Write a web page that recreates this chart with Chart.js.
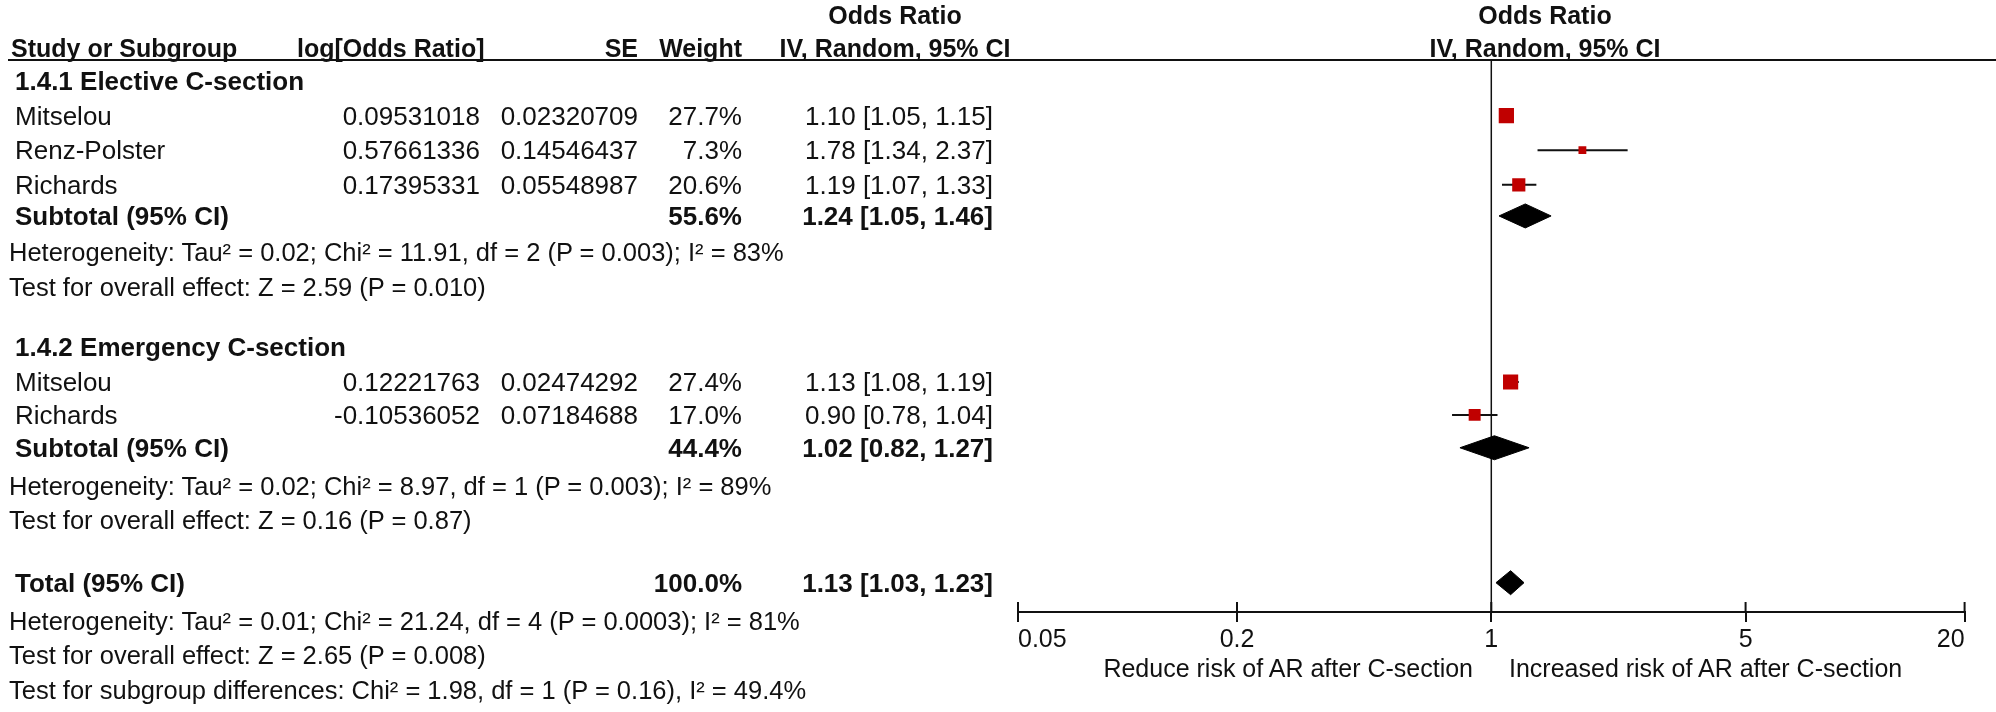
<!DOCTYPE html>
<html>
<head>
<meta charset="utf-8">
<script src="https://cdn.jsdelivr.net/npm/chart.js@4.4.1/dist/chart.umd.min.js"></script>
<style>
html,body{margin:0;padding:0;background:#fff;}
#wrap{position:relative;width:1996px;height:712px;overflow:hidden;font-family:"Liberation Sans",Arial,sans-serif;font-size:26px;color:#111;}
#plot{position:absolute;left:0;top:0;}
.t{position:absolute;white-space:nowrap;line-height:30px;height:30px;}
.b{font-weight:bold;}
.h{font-size:25px;}
.s{font-size:25.5px;}
#rule{position:absolute;left:8px;right:0;top:59px;border-top:2.5px solid #111;}
</style>
</head>
<body>
<div id="wrap"><canvas id="plot" width="1996" height="712"></canvas><div id="rule"></div></div>
<script>
// table data
const groupTitles = ['1.4.1 Elective C-section', '1.4.2 Emergency C-section'];
const studyNames = ['Mitselou', 'Renz-Polster', 'Richards', 'Mitselou', 'Richards'];
const logOddsText = ['0.09531018', '0.57661336', '0.17395331', '0.12221763', '-0.10536052'];
const seText = ['0.02320709', '0.14546437', '0.05548987', '0.02474292', '0.07184688'];
const weights = [27.7, 7.3, 20.6, 27.4, 17.0];
const oddsRatio = [1.10, 1.78, 1.19, 1.13, 0.90];
const ciLow = [1.05, 1.34, 1.07, 1.08, 0.78];
const ciHigh = [1.15, 2.37, 1.33, 1.19, 1.04];

const pooledNames = ['Subtotal (95% CI)', 'Subtotal (95% CI)', 'Total (95% CI)'];
const pooledWeight = [55.6, 44.4, 100.0];
const pooledOR = [1.24, 1.02, 1.13];
const pooledLow = [1.05, 0.82, 1.03];
const pooledHigh = [1.46, 1.27, 1.23];

const statsLines = [
  ['Heterogeneity: Tau² = 0.02; Chi² = 11.91, df = 2 (P = 0.003); I² = 83%', 'Test for overall effect: Z = 2.59 (P = 0.010)'],
  ['Heterogeneity: Tau² = 0.02; Chi² = 8.97, df = 1 (P = 0.003); I² = 89%', 'Test for overall effect: Z = 0.16 (P = 0.87)'],
  ['Heterogeneity: Tau² = 0.01; Chi² = 21.24, df = 4 (P = 0.0003); I² = 81%', 'Test for overall effect: Z = 2.65 (P = 0.008)', 'Test for subgroup differences: Chi² = 1.98, df = 1 (P = 0.16), I² = 49.4%']
];
const axisTicks = [0.05, 0.2, 1, 5, 20];
const favoursLeft = 'Reduce risk of AR after C-section';
const favoursRight = 'Increased risk of AR after C-section';

// row layout (in text lines)
const groupRow = [0, 7.7];
const studyRow = [1, 2, 3, 8.7, 9.65];
const pooledRow = [3.9, 10.6, 14.5];
const statsRow = [4.95, 11.7, 15.6];

const ROW0 = 81, ROWH = 34.6;
const lineY = L => ROW0 + ROWH * L;
const wrap = document.getElementById('wrap');

function addText(str, x, yc, align, cls) {
  const d = document.createElement('div');
  d.className = 't' + (cls ? ' ' + cls : '');
  d.textContent = str;
  d.style.top = (yc - 15) + 'px';
  if (align === 'right') d.style.right = (1996 - x) + 'px';
  else if (align === 'center') { d.style.left = x + 'px'; d.style.transform = 'translateX(-50%)'; }
  else d.style.left = x + 'px';
  wrap.appendChild(d);
}

const NAME_X = 15, STAT_X = 9, LOG_R = 480, SE_R = 638, W_R = 742, CI_R = 993;
const fmt = (o, l, h) => `${o.toFixed(2)} [${l.toFixed(2)}, ${h.toFixed(2)}]`;

// headers
addText('Odds Ratio', 895, 15, 'center', 'b h');
addText('Odds Ratio', 1545, 15, 'center', 'b h');
addText('Study or Subgroup', 11, 48, 'left', 'b h');
addText('log[Odds Ratio]', 297, 48, 'left', 'b h');
addText('SE', SE_R, 48, 'right', 'b h');
addText('Weight', W_R, 48, 'right', 'b h');
addText('IV, Random, 95% CI', 895, 48, 'center', 'b h');
addText('IV, Random, 95% CI', 1545, 48, 'center', 'b h');

groupTitles.forEach((g, i) => addText(g, NAME_X, lineY(groupRow[i]), 'left', 'b'));
studyNames.forEach((n, i) => {
  const y = lineY(studyRow[i]);
  addText(n, NAME_X, y, 'left');
  addText(logOddsText[i], LOG_R, y, 'right');
  addText(seText[i], SE_R, y, 'right');
  addText(weights[i].toFixed(1) + '%', W_R, y, 'right');
  addText(fmt(oddsRatio[i], ciLow[i], ciHigh[i]), CI_R, y, 'right');
});
pooledNames.forEach((n, i) => {
  const y = lineY(pooledRow[i]);
  addText(n, NAME_X, y, 'left', 'b');
  addText(pooledWeight[i].toFixed(1) + '%', W_R, y, 'right', 'b');
  addText(fmt(pooledOR[i], pooledLow[i], pooledHigh[i]), CI_R, y, 'right', 'b');
});
statsLines.forEach((lines, i) => lines.forEach((s, k) => addText(s, STAT_X, lineY(statsRow[i] + k), 'left', 's')));

// plot
const AXIS_Y = 612, TOP_Y = 60;
const yTop = (TOP_Y - ROW0) / ROWH, yBot = (AXIS_Y - ROW0) / ROWH;
const halfDiamond = 12 / ROWH;

const datasets = [];
datasets.push({
  data: oddsRatio.map((v, i) => ({ x: v, y: studyRow[i] })),
  pointStyle: 'rect',
  pointRadius: weights.map(w => 2.9 * Math.sqrt(w) / Math.SQRT2),
  backgroundColor: '#c00000', borderWidth: 0, showLine: false
});
pooledOR.forEach((v, i) => {
  const y = pooledRow[i];
  datasets.push({
    data: [{ x: pooledLow[i], y }, { x: v, y: y - halfDiamond }, { x: pooledHigh[i], y }, { x: v, y: y + halfDiamond }, { x: pooledLow[i], y }],
    showLine: true, fill: 'shape', backgroundColor: '#000', borderColor: '#000', borderWidth: 1, pointRadius: 0, tension: 0
  });
});
studyNames.forEach((n, i) => {
  datasets.push({
    data: [{ x: ciLow[i], y: studyRow[i] }, { x: ciHigh[i], y: studyRow[i] }],
    showLine: true, borderColor: '#111', borderWidth: 2, pointRadius: 0
  });
});
datasets.push({
  data: [{ x: 1, y: yTop }, { x: 1, y: yBot }],
  showLine: true, borderColor: '#111', borderWidth: 1.5, pointRadius: 0
});

const crossTicks = {
  id: 'crossTicks',
  afterDraw(chart) {
    const { ctx, scales: { x } } = chart;
    const y0 = chart.chartArea.bottom;
    ctx.save();
    ctx.strokeStyle = '#111'; ctx.lineWidth = 2;
    axisTicks.forEach(v => {
      const px = x.getPixelForValue(v);
      ctx.beginPath(); ctx.moveTo(px, y0 - 10); ctx.lineTo(px, y0); ctx.stroke();
    });
    ctx.restore();
  }
};

new Chart(document.getElementById('plot'), {
  type: 'scatter',
  data: { datasets },
  plugins: [crossTicks],
  options: {
    responsive: false, animation: false, events: [],
    layout: { autoPadding: false, padding: { left: 1018, right: 31.4, top: TOP_Y, bottom: 0 } },
    plugins: { legend: { display: false }, tooltip: { enabled: false } },
    scales: {
      x: {
        type: 'logarithmic', min: 0.05, max: 20, position: 'bottom',
        afterBuildTicks: s => { s.ticks = axisTicks.map(v => ({ value: v })); },
        afterFit: s => { s.height = 712 - AXIS_Y; },
        border: { display: true, color: '#111', width: 2 },
        grid: { drawOnChartArea: false, drawTicks: true, tickLength: 10, color: '#111', lineWidth: 2 },
        ticks: { autoSkip: false, maxRotation: 0, align: 'inner', padding: 3, color: '#111',
          font: { family: 'Liberation Sans', size: 25 }, callback: v => String(v) }
      },
      y: { type: 'linear', reverse: true, min: yTop, max: yBot, display: false }
    }
  }
});

addText(favoursLeft, 1473, 668, 'right', 'h');
addText(favoursRight, 1509, 668, 'left', 'h');
</script>
</body>
</html>
